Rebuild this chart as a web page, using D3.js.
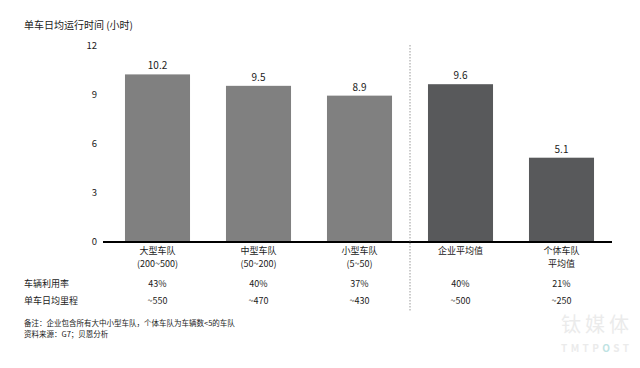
<!DOCTYPE html>
<html>
<head>
<meta charset="utf-8">
<script src="https://cdn.jsdelivr.net/npm/d3@7"></script>
<style>
body { margin: 0; background: #fff; }
text { font-family: "Noto Sans CJK SC", "Noto Sans", sans-serif; fill: #1a1a1a; }
</style>
</head>
<body>
<div id="chart"></div>
<script>
// Data
let categories = ['大型车队|(200~500)', '中型车队|(50~200)', '小型车队|(5~50)', '企业平均值', '个体车队|平均值'];
let hours = [10.2, 9.5, 8.9, 9.6, 5.1];
let groups = ['fleet', 'fleet', 'fleet', 'avg', 'avg'];
let utilization = ['43%', '40%', '37%', '40%', '21%'];
let mileage = ['~550', '~470', '~430', '~500', '~250'];
let yTicks = [0, 3, 6, 9, 12];

let width = 640;
let height = 368;

let svg = d3.select('#chart')
	.append('svg')
	.attr('width', width)
	.attr('height', height);

let x = d3.scaleBand()
	.domain(categories)
	.range([107, 612])
	.paddingInner(0.356)
	.paddingOuter(0.178);

let y = d3.scaleLinear()
	.domain([0, 12])
	.range([241, 45]);

let palette = { fleet: '#808080', avg: '#58595b' };

// Title
svg.append('text')
	.text('单车日均运行时间 (小时)')
	.attr('x', 24)
	.attr('y', 29)
	.attr('font-size', 10);

// Y tick labels
svg.selectAll('.ytick')
	.data(yTicks)
	.enter()
	.append('text')
	.attr('class', 'ytick')
	.text(function(d){ return d; })
	.attr('x', 97)
	.attr('y', function(d){ return y(d) + 3.5; })
	.attr('text-anchor', 'end')
	.attr('font-size', 9.5);

// Bars
svg.selectAll('.bar')
	.data(hours)
	.enter()
	.append('rect')
	.attr('class', 'bar')
	.attr('x', function(d, i){ return x(categories[i]); })
	.attr('y', function(d){ return y(d); })
	.attr('width', x.bandwidth())
	.attr('height', function(d){ return y(0) - y(d); })
	.attr('fill', function(d, i){ return palette[groups[i]]; });

// Value labels
svg.selectAll('.val')
	.data(hours)
	.enter()
	.append('text')
	.attr('class', 'val')
	.text(function(d){ return d.toFixed(1); })
	.attr('x', function(d, i){ return x(categories[i]) + x.bandwidth() / 2; })
	.attr('y', function(d){ return y(d) - 5; })
	.attr('text-anchor', 'middle')
	.attr('font-size', 10);

// Baseline
svg.append('line')
	.attr('x1', 103)
	.attr('x2', 612)
	.attr('y1', y(0) + 1)
	.attr('y2', y(0) + 1)
	.attr('stroke', '#000')
	.attr('stroke-width', 2);

// Divider between fleet sizes and averages
let divX = (x(categories[2]) + x.bandwidth() + x(categories[3])) / 2;
svg.append('line')
	.attr('x1', divX)
	.attr('x2', divX)
	.attr('y1', 45)
	.attr('y2', 312)
	.attr('stroke', '#999')
	.attr('stroke-width', 1)
	.attr('stroke-dasharray', '1.5,1.5');

// Category labels
categories.forEach(function(c, i){
	let lines = c.split('|');
	let t = svg.append('text')
		.attr('text-anchor', 'middle')
		.attr('font-size', 9);
	lines.forEach(function(l, j){
		t.append('tspan')
			.text(l)
			.attr('x', x(c) + x.bandwidth() / 2)
			.attr('y', 254 + j * 13);
	});
});

// Table rows
let rows = [['车辆利用率', utilization, 287], ['单车日均里程', mileage, 304]];
rows.forEach(function(r){
	svg.append('text')
		.text(r[0])
		.attr('x', 24)
		.attr('y', r[2])
		.attr('font-size', 9);
	svg.selectAll(null)
		.data(r[1])
		.enter()
		.append('text')
		.text(function(d){ return d; })
		.attr('x', function(d, i){ return x(categories[i]) + x.bandwidth() / 2; })
		.attr('y', r[2])
		.attr('text-anchor', 'middle')
		.attr('font-size', 9);
});

// Notes
svg.append('text')
	.text('备注：企业包含所有大中小型车队，个体车队为车辆数<5的车队')
	.attr('x', 24)
	.attr('y', 326)
	.attr('font-size', 7.5);
svg.append('text')
	.text('资料来源：G7；贝恩分析')
	.attr('x', 24)
	.attr('y', 337)
	.attr('font-size', 7.5);

// Watermark
svg.append('text')
	.text('钛媒体')
	.attr('x', 561)
	.attr('y', 332)
	.attr('textLength', 68)
	.attr('font-size', 20)
	.style('fill', '#ebebeb');
let wm = svg.append('text')
	.attr('x', 561)
	.attr('y', 352)
	.attr('textLength', 68)
	.attr('font-size', 10)
	.attr('font-weight', 'bold')
	.style('fill', '#ebebeb');
wm.append('tspan').text('TMTP');
wm.append('tspan').text('O').style('fill', '#bfe3e3');
wm.append('tspan').text('ST');
</script>
</body>
</html>
